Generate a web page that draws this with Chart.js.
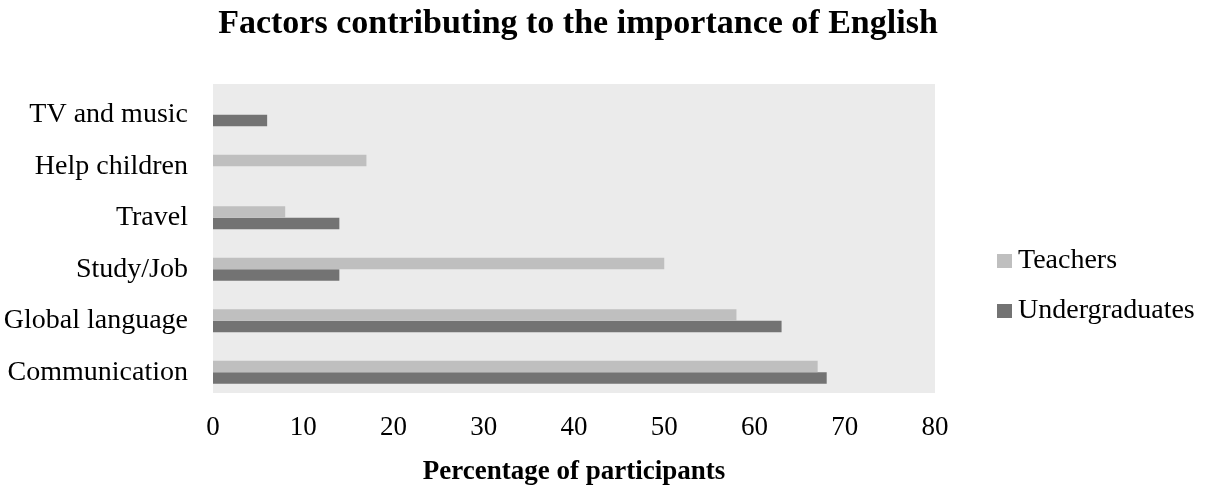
<!DOCTYPE html>
<html>
<head>
<meta charset="utf-8">
<script src="https://cdn.jsdelivr.net/npm/chart.js@4/dist/chart.umd.min.js"></script>
<style>
  html,body{margin:0;padding:0;background:#fff;}
  #wrap{width:1209px;height:486px;}
</style>
</head>
<body>
<div id="wrap"><canvas id="chart" width="1209" height="486"></canvas></div>
<script>
// ---------------- DATA ----------------
const categories=['TV and music','Help children','Travel','Study/Job','Global language','Communication'];
const teachers=[0,17,8,50,58,67];
const undergraduates=[6,0,14,14,63,68];
const seriesNames=['Teachers','Undergraduates'];
const seriesColors=['#bfbfbf','#737373'];
const xMin=0, xMax=80, xStep=10;
const chartTitle='Factors contributing to the importance of English';
const xTitle='Percentage of participants';

const FONT='"Liberation Serif", "Times New Roman", serif';
const BG_SHIFT=5; // plot background sits a little above the bar bands

// grey plot background
const plotBg={
  id:'plotBg',
  beforeDraw(chart){
    const a=chart.chartArea, ctx=chart.ctx;
    ctx.save();
    ctx.fillStyle='#ebebeb';
    ctx.fillRect(a.left,a.top-BG_SHIFT,a.right-a.left,a.bottom-a.top);
    ctx.restore();
  }
};

// title centred over the plot, not the whole canvas
const plotTitle={
  id:'plotTitle',
  afterDraw(chart){
    const a=chart.chartArea, ctx=chart.ctx;
    ctx.save();
    ctx.fillStyle='#000';
    ctx.font='bold 34px '+FONT;
    ctx.textAlign='center';
    ctx.textBaseline='alphabetic';
    ctx.fillText(chartTitle,(a.left+a.right)/2+4,33);
    ctx.restore();
  }
};

// legend on the right, drawn by hand for exact placement
const sideLegend={
  id:'sideLegend',
  afterDraw(chart){
    const ctx=chart.ctx;
    const rows=[261,311];
    ctx.save();
    chart.data.datasets.forEach((ds,i)=>{
      ctx.fillStyle=ds.backgroundColor;
      ctx.fillRect(997,rows[i]-7,15,14);
      ctx.fillStyle='#000';
      ctx.font='28px '+FONT;
      ctx.textBaseline='middle';
      ctx.textAlign='left';
      ctx.fillText(ds.label,1018,rows[i]);
    });
    ctx.restore();
  }
};

new Chart(document.getElementById('chart'),{
  type:'bar',
  data:{
    labels:categories,
    datasets:[
      {label:seriesNames[0],data:teachers,backgroundColor:seriesColors[0]},
      {label:seriesNames[1],data:undergraduates,backgroundColor:seriesColors[1]}
    ]
  },
  options:{
    indexAxis:'y',
    responsive:false,
    animation:false,
    categoryPercentage:0.45,
    barPercentage:1.0,
    layout:{padding:{left:0,right:274,top:89,bottom:0}},
    plugins:{
      legend:{display:false},
      tooltip:{enabled:false},
      title:{display:false}
    },
    scales:{
      x:{
        min:xMin,max:xMax,
        ticks:{stepSize:xStep,color:'#000',font:{family:FONT,size:27},padding:14},
        grid:{display:false,drawTicks:false},
        border:{display:false},
        title:{display:true,text:xTitle,color:'#000',
               font:{family:FONT,size:27,weight:'bold',lineHeight:1},padding:{top:0,bottom:0}},
        afterFit(scale){scale.height=88;}
      },
      y:{
        ticks:{color:'#000',font:{family:FONT,size:28},padding:25},
        grid:{display:false,drawTicks:false},
        border:{display:false},
        afterFit(scale){scale.width=213;}
      }
    }
  },
  plugins:[plotBg,plotTitle,sideLegend]
});
</script>
</body>
</html>
